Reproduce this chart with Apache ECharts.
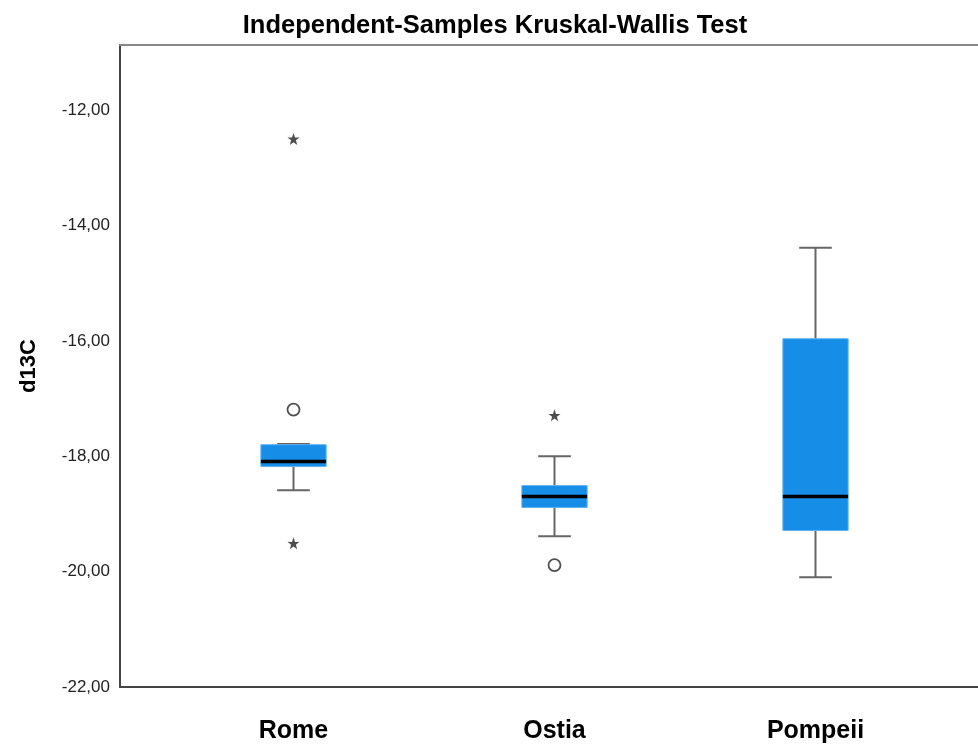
<!DOCTYPE html>
<html><head><meta charset="utf-8">
<script src="https://cdn.jsdelivr.net/npm/echarts@6/dist/echarts.min.js"></script>
<style>html,body{margin:0;padding:0;background:#fff}#c{width:978px;height:744px}</style>
</head><body><div id="c"></div>
<script>
var categories = ['Rome', 'Ostia', 'Pompeii'];
// [min whisker, Q1, median, Q3, max whisker]
var boxes = [
  [-18.60, -18.19, -18.10, -17.81, -17.80],
  [-19.40, -18.90, -18.71, -18.52, -18.01],
  [-20.11, -19.30, -18.71, -15.97, -14.39]
];
// outliers: [category index, value]
var circleOutliers = [[0, -17.20], [1, -19.90]];
var starOutliers = [[0, -12.50], [0, -19.52], [1, -17.30]];
var yTicks = [-22, -20, -18, -16, -14, -12];
var yMin = -22, yMax = -10.87;

var starPath = 'path://M50,0 L61.8,35.5 L97.6,34.5 L69,56.5 L79.4,90.5 L50,70 L20.6,90.5 L31,56.5 L2.4,34.5 L38.2,35.5 Z';

var chart = echarts.init(document.getElementById('c'));
var boxData = boxes.map(function (b, i) { return [i].concat(b); });

chart.setOption({
  animation: false,
  title: {
    text: 'Independent-Samples Kruskal-Wallis Test',
    left: 490, top: 8, textAlign: 'center',
    textStyle: { fontFamily: 'Liberation Sans', fontSize: 25.5, fontWeight: 'bold', color: '#000' }
  },
  grid: [
    { left: 120, right: -5, top: 45, bottom: 57 },
    { left: 163, width: 783, top: 45, bottom: 57 }
  ],
  xAxis: [
    { gridIndex: 0, type: 'value', min: 0, max: 1, position: 'bottom',
      axisLine: { lineStyle: { color: '#444', width: 2 } }, axisTick: { show: false },
      axisLabel: { show: false }, splitLine: { show: false } },
    { gridIndex: 0, type: 'value', min: 0, max: 1, position: 'top',
      axisLine: { lineStyle: { color: '#888', width: 2 } }, axisTick: { show: false },
      axisLabel: { show: false }, splitLine: { show: false } },
    { gridIndex: 1, type: 'category', data: categories,
      axisLine: { show: false }, axisTick: { show: false }, splitLine: { show: false },
      axisLabel: { margin: 33, fontFamily: 'Liberation Sans', fontSize: 25, fontWeight: 'bold', color: '#000' } }
  ],
  yAxis: [
    { gridIndex: 0, type: 'value', min: yMin, max: yMax, interval: 2,
      name: 'd13C', nameLocation: 'middle', nameGap: 80, nameRotate: 90,
      nameTextStyle: { fontFamily: 'Liberation Sans', fontSize: 22, fontWeight: 'bold', color: '#000' },
      axisLine: { show: true, lineStyle: { color: '#444', width: 2 } }, axisTick: { show: false },
      splitLine: { show: false },
      axisLabel: { showMaxLabel: false, margin: 10, fontFamily: 'Liberation Sans', fontSize: 17, color: '#222',
        formatter: function (v) { return yTicks.indexOf(v) >= 0 ? v.toFixed(2).replace('.', ',') : ''; } } },
    { gridIndex: 1, type: 'value', min: yMin, max: yMax, show: false }
  ],
  series: [
    {
      type: 'custom', xAxisIndex: 2, yAxisIndex: 1, data: boxData,
      renderItem: function (params, api) {
        var x = api.value(0);
        var band = api.size([1, 0])[0];
        var bw = band * 0.25, cw = band * 0.125;
        var pMin = api.coord([x, api.value(1)]);
        var pQ1 = api.coord([x, api.value(2)]);
        var pMed = api.coord([x, api.value(3)]);
        var pQ3 = api.coord([x, api.value(4)]);
        var pMax = api.coord([x, api.value(5)]);
        var cx = pMed[0];
        var ws = { stroke: '#666', lineWidth: 2 };
        return { type: 'group', children: [
          { type: 'line', shape: { x1: cx, y1: pMax[1], x2: cx, y2: pQ3[1] }, style: ws },
          { type: 'line', shape: { x1: cx, y1: pQ1[1], x2: cx, y2: pMin[1] }, style: ws },
          { type: 'line', shape: { x1: cx - cw / 2, y1: pMax[1], x2: cx + cw / 2, y2: pMax[1] }, style: ws },
          { type: 'line', shape: { x1: cx - cw / 2, y1: pMin[1], x2: cx + cw / 2, y2: pMin[1] }, style: ws },
          { type: 'rect', shape: { x: cx - bw / 2, y: pQ3[1], width: bw, height: pQ1[1] - pQ3[1] },
            style: { fill: '#168de6', stroke: '#5fb3f0', lineWidth: 1 } },
          { type: 'line', shape: { x1: cx - bw / 2, y1: pMed[1], x2: cx + bw / 2, y2: pMed[1] },
            style: { stroke: '#000', lineWidth: 3.5 } }
        ] };
      }
    },
    {
      type: 'scatter', xAxisIndex: 2, yAxisIndex: 1, data: circleOutliers,
      symbol: 'circle', symbolSize: 12,
      itemStyle: { color: '#fff', borderColor: '#222', borderWidth: 1.8 }
    },
    {
      type: 'scatter', xAxisIndex: 2, yAxisIndex: 1, data: starOutliers,
      symbol: starPath, symbolSize: 12,
      itemStyle: { color: '#222' }
    }
  ]
});
</script>
</body></html>
